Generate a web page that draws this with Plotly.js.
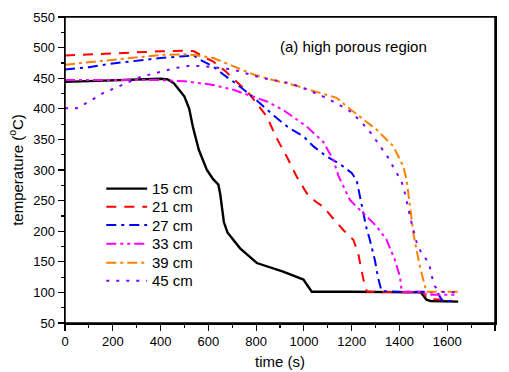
<!DOCTYPE html>
<html>
<head>
<meta charset="utf-8">
<script src="https://cdn.plot.ly/plotly-3.0.1.min.js"></script>
<style>html,body{margin:0;padding:0;background:#fff;}#chart{width:509px;height:372px;}</style>
</head>
<body>
<div id="chart"></div>
<script>
// Series names
const seriesNames = ["15 cm", "21 cm", "27 cm", "33 cm", "39 cm", "45 cm"];

// 15 cm
const t15 = [0,100,200,300,400,430,455,480,500,520,535,560,594,620,642,650,656,665,680,698,733,803,913,998,1018,1033,1200,1490,1500,1513,1530,1646];
const T15 = [444,445,446,448,449,448,442,430,420,400,371,333,300,285,276,260,240,215,198,189,172,148,134,121,110,101,101,100,95,88,86,85];

// 21 cm
const t21 = [0,100,200,300,400,500,540,580,621,670,712,768,820,845,886,928,970,1012,1050,1081,1120,1165,1207,1227,1241,1255,1265,1400,1500,1515,1540,1620];
const T21 = [487,489,491,492,494,495,494,485,477,462,447,426,400,387,352,322,289,262,248,240,222,202,186,164,137,110,101,101,100,91,89,87];

// 27 cm
const t27 = [0,100,200,300,400,500,540,566,621,663,720,775,830,886,940,998,1039,1095,1150,1200,1221,1235,1248,1262,1276,1297,1310,1318,1325,1400,1500,1560,1572,1580,1620];
const T27 = [464,468,474,479,483,486,487,480,469,456,440,423,404,385,368,355,339,322,310,295,283,255,230,205,186,153,125,110,102,101,101,99,90,86,86];

// 33 cm
const t33 = [0,100,200,300,400,500,621,705,761,845,914,960,1012,1081,1123,1145,1165,1193,1220,1248,1304,1346,1381,1402,1409,1420,1500,1513,1640];
const T33 = [447,447,448,448,447,445,439,431,423,412,398,385,371,346,317,290,273,251,240,230,208,186,153,126,104,101,101,96,96];

// 39 cm
const t39 = [0,100,200,300,400,500,540,621,700,789,870,956,1067,1137,1179,1240,1304,1374,1416,1430,1437,1444,1458,1485,1506,1513,1646];
const T39 = [472,476,481,485,488,489,488,483,470,456,447,439,426,418,404,386,366,339,306,284,262,240,197,143,110,101,101];

// 45 cm
const t45 = [0,50,106,161,210,259,315,364,412,468,517,566,621,705,775,830,941,1010,1081,1137,1193,1242,1283,1318,1353,1381,1409,1423,1446,1471,1492,1524,1534,1548,1569,1646];
const T45 = [401,401,413,426,434,443,452,457,462,467,470,470,468,464,456,450,442,432,420,409,396,378,359,339,320,300,281,262,221,183,164,148,128,110,101,100];

// Axis tick values
const xTicks = [0,200,400,600,800,1000,1200,1400,1600,1800];
const yTicks = [50,100,150,200,250,300,350,400,450,500,550];

const xs = [t15,t21,t27,t33,t39,t45];
const ys = [T15,T21,T27,T33,T39,T45];
const colors = ["#000000","#ff0000","#0000ff","#ff00ff","#ff8000","#8000ff"];
const dashes = ["solid","10px,8px","10px,5px,3px,5px","10px,4px,3px,4px,3px,4px","10px,4px,3px,4px","3px,7px"];

const traces = seriesNames.map((n,i)=>({
  x: xs[i], y: ys[i], name: n, type: "scatter", mode: "lines",
  showlegend: false,
  line: {color: colors[i], width: i === 0 ? 2.4 : 2, dash: dashes[i]}
}));

// Manual legend (compact spacing like the original)
const legX0 = 0.096, legX1 = 0.191, legTextX = 0.197;
const legY = [0.439, 0.380, 0.320, 0.259, 0.197, 0.138];
const shapes = seriesNames.map((n,i)=>({
  type: "line", xref: "paper", yref: "paper",
  x0: legX0, x1: legX1, y0: legY[i], y1: legY[i],
  line: {color: colors[i], width: i === 0 ? 2.4 : 2, dash: dashes[i]}
}));
// plot frame (top and right edges)
shapes.push({type: "rect", xref: "paper", yref: "paper", x0: 0, x1: 1, y0: 0, y1: 1,
  line: {color: "#000", width: 1.5}, fillcolor: "rgba(0,0,0,0)", layer: "above"});

const legendAnn = seriesNames.map((n,i)=>({
  text: n, xref: "paper", yref: "paper", x: legTextX, y: legY[i],
  xanchor: "left", yanchor: "middle", showarrow: false,
  font: {size: 15, color: "#000"}
}));

const tickFont = {family: "Arial, 'Liberation Sans', sans-serif", size: 13, color: "#000"};

const layout = {
  width: 509, height: 372,
  margin: {l: 65, r: 14, t: 17, b: 49},
  paper_bgcolor: "#fff", plot_bgcolor: "#fff",
  font: {family: "Arial, 'Liberation Sans', sans-serif", color: "#000"},
  showlegend: false,
  xaxis: {
    range: [0, 1800], tickvals: xTicks, ticktext: xTicks.map(String),
    ticks: "outside", ticklen: 6, tickwidth: 1.2, tickcolor: "#000",
    minor: {ticks: "outside", ticklen: 3, dtick: 100, tick0: 0, tickcolor: "#000", tickwidth: 1.2},
    showline: true, mirror: true, linecolor: "#000", linewidth: 1.5, showgrid: false, zeroline: false,
    tickfont: tickFont,
    title: {text: "time (s)", font: {size: 15, color: "#000"}, standoff: 8}
  },
  yaxis: {
    range: [50, 550], tickvals: yTicks, ticktext: yTicks.map(String),
    ticks: "outside", ticklen: 6, tickwidth: 1.2, tickcolor: "#000",
    minor: {ticks: "outside", ticklen: 3, dtick: 25, tick0: 0, tickcolor: "#000", tickwidth: 1.2},
    showline: true, mirror: true, linecolor: "#000", linewidth: 1.5, showgrid: false, zeroline: false,
    tickfont: tickFont,
    title: {text: "temperature (<sup>o</sup>C)", font: {size: 15, color: "#000"}, standoff: 6}
  },
  shapes: shapes,
  annotations: [{
    text: "(a) high porous region", xref: "paper", yref: "paper",
    x: 0.67, y: 0.905, xanchor: "center", yanchor: "middle", showarrow: false,
    font: {size: 15, color: "#000"}
  }].concat(legendAnn)
};

Plotly.newPlot("chart", traces, layout, {displayModeBar: false, staticPlot: true});
</script>
</body>
</html>
